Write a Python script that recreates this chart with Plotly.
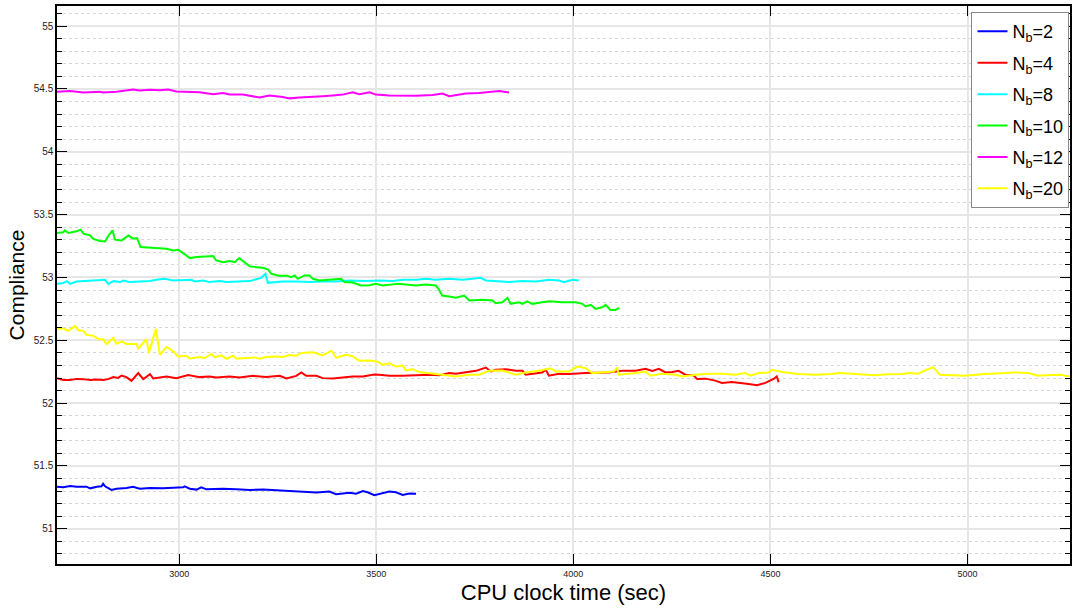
import plotly.graph_objects as go

# ---- data ----
x_nb2 = [2690, 2706, 2723, 2740, 2765, 2774, 2791, 2803, 2807, 2812, 2828, 2841, 2866, 2883, 2900, 2926, 2959, 2993, 3010, 3014, 3027, 3044, 3056, 3069, 3111, 3145, 3179, 3213, 3246, 3280, 3314, 3348, 3381, 3398, 3432, 3449, 3466, 3478, 3495, 3516, 3533, 3550, 3567, 3584, 3601]
y_nb2 = [51.335, 51.330, 51.340, 51.335, 51.335, 51.322, 51.335, 51.338, 51.358, 51.338, 51.309, 51.319, 51.325, 51.335, 51.319, 51.325, 51.322, 51.325, 51.330, 51.338, 51.319, 51.312, 51.330, 51.314, 51.319, 51.314, 51.309, 51.312, 51.306, 51.304, 51.293, 51.288, 51.296, 51.275, 51.286, 51.280, 51.301, 51.291, 51.267, 51.286, 51.296, 51.291, 51.270, 51.280, 51.278]

x_nb4 = [2690, 2706, 2723, 2740, 2757, 2774, 2790, 2807, 2820, 2833, 2845, 2854, 2866, 2879, 2896, 2909, 2926, 2934, 2968, 2993, 3023, 3052, 3077, 3094, 3128, 3153, 3187, 3221, 3255, 3272, 3297, 3310, 3322, 3348, 3364, 3390, 3415, 3440, 3466, 3495,
         3508, 3533, 3567, 3601, 3634, 3660, 3685, 3702, 3727, 3753, 3778, 3791, 3803, 3829, 3854, 3871, 3879, 3905, 3921, 3930, 3938, 3964, 3989, 4031, 4065, 4090, 4124, 4158, 4183, 4200, 4217, 4234, 4251, 4267, 4284, 4305, 4314, 4335, 4360, 4377, 4402, 4428, 4445, 4466, 4487, 4508, 4516, 4521]
y_nb4 = [52.199, 52.185, 52.185, 52.193, 52.191, 52.185, 52.188, 52.185, 52.191, 52.207, 52.201, 52.220, 52.207, 52.177, 52.239, 52.191, 52.231, 52.196, 52.212, 52.199, 52.223, 52.207, 52.212, 52.204, 52.212, 52.204, 52.217, 52.207, 52.217, 52.196, 52.217, 52.244, 52.217, 52.217, 52.199, 52.196, 52.204, 52.212, 52.212, 52.228,
         52.226, 52.218, 52.218, 52.221, 52.226, 52.221, 52.239, 52.234, 52.244, 52.257, 52.283, 52.252, 52.265, 52.270, 52.257, 52.257, 52.226, 52.239, 52.244, 52.265, 52.218, 52.234, 52.231, 52.239, 52.239, 52.244, 52.257, 52.257, 52.273, 52.257, 52.273, 52.244, 52.247, 52.257, 52.226, 52.221, 52.192, 52.195, 52.179, 52.161, 52.169, 52.161, 52.153, 52.142, 52.161, 52.192, 52.213, 52.166]

x_nb8 = [2690, 2706, 2715, 2723, 2740, 2774, 2799, 2812, 2820, 2833, 2850, 2858, 2875, 2900, 2926, 2942, 2963, 2985, 3010, 3031, 3039, 3061, 3077, 3103, 3120, 3145, 3179, 3208, 3219, 3225, 3263, 3297, 3331, 3364, 3398, 3432, 3474, 3508, 3542,
         3567, 3601, 3626, 3651, 3685, 3719, 3744, 3765, 3778, 3803, 3837, 3871, 3905, 3938, 3964, 3976, 3997, 4014]
y_nb8 = [52.949, 52.955, 52.971, 52.949, 52.968, 52.976, 52.976, 52.981, 52.949, 52.971, 52.963, 52.976, 52.963, 52.968, 52.971, 52.981, 52.989, 52.976, 52.976, 52.981, 52.968, 52.976, 52.963, 52.971, 52.963, 52.968, 52.971, 52.997, 53.029, 52.957, 52.968, 52.968, 52.963, 52.968, 52.968, 52.976, 52.971, 52.976, 52.971,
         52.981, 52.981, 52.989, 52.981, 52.989, 52.981, 52.989, 52.997, 52.976, 52.971, 52.963, 52.971, 52.968, 52.981, 52.976, 52.963, 52.981, 52.976]

x_nb10 = [2690, 2706, 2710, 2719, 2740, 2750, 2757, 2774, 2782, 2799, 2812, 2820, 2831, 2837, 2854, 2871, 2883, 2893, 2902, 2926, 2951, 2968, 2985, 2997, 3010, 3027, 3044, 3061, 3077, 3086, 3094, 3111, 3128, 3141, 3152, 3162, 3179, 3196, 3212, 3225, 3234, 3255, 3272, 3284, 3293, 3301, 3318, 3331, 3339, 3356, 3377, 3398, 3411, 3419, 3440, 3461, 3483, 3499, 3516, 3533, 3554,
          3575, 3601, 3626, 3651, 3658, 3667, 3685, 3702, 3723, 3736, 3770, 3795, 3803, 3820, 3833, 3841, 3862, 3871, 3883, 3896, 3913, 3938, 3972, 4006, 4023, 4031, 4044, 4056, 4073, 4082, 4094, 4107, 4116]
y_nb10 = [53.354, 53.359, 53.375, 53.354, 53.367, 53.380, 53.348, 53.335, 53.306, 53.290, 53.287, 53.330, 53.375, 53.301, 53.295, 53.335, 53.309, 53.314, 53.242, 53.237, 53.237, 53.229, 53.215, 53.221, 53.194, 53.154, 53.162, 53.162, 53.168, 53.170, 53.136, 53.122, 53.130, 53.122, 53.154, 53.130, 53.088, 53.082, 53.077, 53.064, 53.029, 53.011, 53.016, 53.003, 53.016, 52.989, 53.016, 53.016, 52.989, 52.976, 52.981, 52.989, 52.989, 52.963, 52.960, 52.936, 52.939, 52.949, 52.936, 52.941, 52.949,
          52.944, 52.936, 52.944, 52.936, 52.910, 52.856, 52.848, 52.838, 52.856, 52.816, 52.822, 52.816, 52.795, 52.803, 52.838, 52.790, 52.803, 52.790, 52.809, 52.790, 52.798, 52.811, 52.803, 52.803, 52.790, 52.769, 52.782, 52.750, 52.763, 52.782, 52.742, 52.742, 52.758]

x_nb12 = [2690, 2723, 2740, 2757, 2799, 2807, 2841, 2883, 2900, 2926, 2951, 2972, 2993, 3027, 3052, 3086, 3111, 3128, 3162, 3204, 3229, 3263, 3280, 3305, 3331, 3364, 3390, 3415, 3440, 3457, 3483, 3499, 3533, 3567, 3601, 3643, 3668, 3685, 3727, 3761, 3786, 3812, 3837]
y_nb12 = [54.477, 54.484, 54.477, 54.471, 54.477, 54.471, 54.477, 54.496, 54.487, 54.493, 54.490, 54.496, 54.480, 54.477, 54.474, 54.458, 54.467, 54.455, 54.455, 54.432, 54.448, 54.435, 54.425, 54.432, 54.435, 54.442, 54.448, 54.455, 54.474, 54.458, 54.474, 54.455, 54.448, 54.448, 54.445, 54.451, 54.464, 54.442, 54.464, 54.467, 54.477, 54.484, 54.471]

x_nb20 = [2690, 2706, 2719, 2736, 2744, 2757, 2765, 2782, 2795, 2807, 2816, 2833, 2841, 2854, 2866, 2892, 2896, 2917, 2923, 2941, 2951, 2968, 2985, 2997, 3018, 3027, 3048, 3065, 3082, 3090, 3107, 3120, 3137, 3145, 3170, 3191, 3204, 3221, 3246, 3263, 3280, 3297, 3310, 3339, 3364, 3386, 3398, 3424, 3440, 3457, 3483, 3504,
          3516, 3533, 3550, 3567, 3575, 3592, 3609, 3634, 3668, 3702, 3736, 3761, 3786, 3820, 3854, 3879, 3913, 3942, 3955, 3989, 4010, 4031, 4048, 4073, 4103, 4111, 4115, 4158, 4183, 4196, 4225, 4259, 4276, 4310, 4343, 4377, 4411, 4436, 4449, 4470, 4495, 4504, 4529,
          4571, 4614, 4656, 4673, 4706, 4740, 4765, 4799, 4833, 4850, 4875, 4892, 4913, 4930, 4968, 4993, 5036, 5078, 5120, 5154, 5179, 5213, 5238, 5255, 5265]
y_nb20 = [52.593, 52.593, 52.575, 52.615, 52.580, 52.575, 52.543, 52.537, 52.511, 52.508, 52.471, 52.519, 52.473, 52.492, 52.471, 52.471, 52.431, 52.511, 52.399, 52.591, 52.385, 52.447, 52.412, 52.372, 52.377, 52.353, 52.367, 52.359, 52.393, 52.364, 52.380, 52.353, 52.377, 52.353, 52.359, 52.364, 52.353, 52.367, 52.372, 52.367, 52.383, 52.377, 52.399, 52.404, 52.380, 52.417, 52.361, 52.385, 52.372, 52.337, 52.340, 52.329,
          52.304, 52.317, 52.291, 52.299, 52.260, 52.270, 52.247, 52.239, 52.226, 52.213, 52.226, 52.226, 52.257, 52.260, 52.226, 52.244, 52.257, 52.278, 52.252, 52.252, 52.291, 52.278, 52.239, 52.247, 52.252, 52.283, 52.226, 52.239, 52.252, 52.218, 52.234, 52.226, 52.213, 52.226, 52.234, 52.234, 52.226, 52.239, 52.218, 52.239, 52.244, 52.265, 52.247,
          52.231, 52.226, 52.231, 52.239, 52.234, 52.226, 52.221, 52.229, 52.231, 52.239, 52.234, 52.260, 52.286, 52.226, 52.221, 52.218, 52.229, 52.239, 52.244, 52.239, 52.218, 52.224, 52.226, 52.213, 52.213]

series_names = ["N<sub>b</sub>=2", "N<sub>b</sub>=4", "N<sub>b</sub>=8", "N<sub>b</sub>=10", "N<sub>b</sub>=12", "N<sub>b</sub>=20"]
series_colors = ["#0000ff", "#ff0000", "#00ffff", "#00ff00", "#ff00ff", "#ffff00"]
x_tick_vals = [3000, 3500, 4000, 4500, 5000]
y_tick_vals = [51, 51.5, 52, 52.5, 53, 53.5, 54, 54.5, 55]
x_title = "CPU clock time (sec)"
y_title = "Compliance"

xs = [x_nb2, x_nb4, x_nb8, x_nb10, x_nb12, x_nb20]
ys = [y_nb2, y_nb4, y_nb8, y_nb10, y_nb12, y_nb20]

fig = go.Figure()
for i, (xv, yv, name, col) in enumerate(zip(xs, ys, series_names, series_colors)):
    fig.add_trace(go.Scatter(x=xv, y=yv, mode="lines", name=name,
                             legendgroup="g%d" % i,
                             line=dict(color=col, width=2)))

FONT = "Liberation Sans, Arial, sans-serif"
fig.update_layout(
    width=1073, height=611,
    margin=dict(l=57, r=1, t=6, b=47),
    paper_bgcolor="white", plot_bgcolor="white",
    font=dict(family=FONT, color="#000"),
    showlegend=True,
    legend=dict(x=0.9995, y=0.989, xanchor="right", yanchor="top",
                bgcolor="white", bordercolor="#888888", borderwidth=1,
                font=dict(size=18, family=FONT, color="#000"),
                tracegroupgap=5, itemwidth=30),
    xaxis=dict(range=[2690, 5260], tickvals=x_tick_vals,
               ticktext=[str(v) for v in x_tick_vals],
               showgrid=True, gridcolor="#e6e6e6", gridwidth=1.5,
               zeroline=False, showline=True, linecolor="#000", linewidth=1.5,
               mirror="ticks", ticks="inside", ticklen=10, tickcolor="#000", tickwidth=1.2,
               tickfont=dict(size=9, color="#222", family=FONT),
               title=dict(text=x_title, font=dict(size=22, family=FONT), standoff=7)),
    yaxis=dict(range=[50.72, 55.16], tickvals=y_tick_vals,
               ticktext=[("%g" % v) for v in y_tick_vals],
               showgrid=True, gridcolor="#e6e6e6", gridwidth=1.5,
               zeroline=False, showline=True, linecolor="#000", linewidth=1.5,
               mirror="ticks", ticks="inside", ticklen=10, tickcolor="#000", tickwidth=1.2,
               tickfont=dict(size=10, color="#222", family=FONT),
               minor=dict(dtick=0.1, tick0=51, ticks="inside", ticklen=5, tickcolor="#000",
                          showgrid=True, gridcolor="#d6d6d6", griddash="dot", gridwidth=1),
               title=dict(text=y_title, font=dict(size=21, family=FONT), standoff=3)),
)

fig.write_html("out.html")
